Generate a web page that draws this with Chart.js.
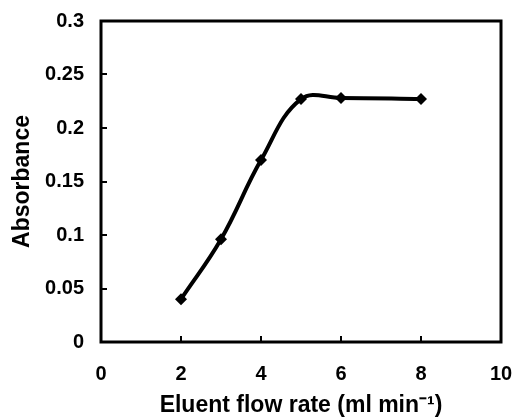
<!DOCTYPE html>
<html>
<head>
<meta charset="utf-8">
<script src="https://cdn.jsdelivr.net/npm/chart.js@4.4.1/dist/chart.umd.min.js"></script>
<style>
  html, body { margin: 0; padding: 0; background: #fff; }
  #wrap { width: 513px; height: 419px; }
</style>
</head>
<body>
<div id="wrap"><canvas id="chart"></canvas></div>
<script>
// flow rate (ml/min) vs absorbance
const flowRates = [2, 3, 4, 5, 6, 8];
const absorbance = [0.04, 0.096, 0.17, 0.227, 0.228, 0.227];

const xTicks = [0, 2, 4, 6, 8, 10];
const yTicks = [0, 0.05, 0.1, 0.15, 0.2, 0.25, 0.3];
const yTickLabels = ["0", "0.05", "0.1", "0.15", "0.2", "0.25", "0.3"];

const FONT = "'Liberation Sans', Arial, sans-serif";

// box around the plot plus short inward tick marks
const frame = {
  id: "frame",
  afterDatasetsDraw(chart) {
    const { ctx, chartArea: a, scales } = chart;
    ctx.save();
    ctx.strokeStyle = "#000";
    ctx.lineWidth = 2;
    ctx.beginPath();
    scales.x.ticks.forEach(t => {
      const px = Math.round(scales.x.getPixelForValue(t.value));
      ctx.moveTo(px, a.bottom);
      ctx.lineTo(px, a.bottom - 6);
    });
    scales.y.ticks.forEach(t => {
      const py = Math.round(scales.y.getPixelForValue(t.value));
      ctx.moveTo(a.left, py);
      ctx.lineTo(a.left + 6, py);
    });
    ctx.stroke();
    ctx.lineWidth = 3;
    ctx.strokeRect(a.left, a.top, a.right - a.left, a.bottom - a.top);
    ctx.restore();
  }
};

new Chart(document.getElementById("chart"), {
  type: "line",
  data: {
    datasets: [{
      data: flowRates.map((x, i) => ({ x, y: absorbance[i] })),
      borderColor: "#000",
      backgroundColor: "#000",
      borderWidth: 4,
      tension: 0.4,
      pointStyle: "rectRot",
      pointRadius: 6,
      pointBorderWidth: 0,
      pointBackgroundColor: "#000"
    }]
  },
  options: {
    responsive: true,
    maintainAspectRatio: false,
    animation: false,
    layout: { padding: { left: 0, top: 21, right: 12, bottom: 0 } },
    plugins: { legend: { display: false }, tooltip: { enabled: false } },
    scales: {
      x: {
        type: "linear",
        min: 0,
        max: 10,
        afterBuildTicks: s => { s.ticks = xTicks.map(v => ({ value: v })); },
        afterFit: s => { s.height = 77; s.paddingLeft = 0; s.paddingRight = 0; },
        grid: { display: false, drawTicks: false },
        border: { display: false },
        ticks: {
          color: "#000",
          padding: 20,
          maxRotation: 0,
          font: { family: FONT, size: 20, weight: "bold" }
        },
        title: {
          display: true,
          text: "Eluent flow rate (ml min⁻¹)",
          color: "#000",
          padding: { top: 0, bottom: 0 },
          font: { family: FONT, size: 23, weight: "bold" }
        }
      },
      y: {
        min: 0,
        max: 0.3,
        afterBuildTicks: s => { s.ticks = yTicks.map(v => ({ value: v })); },
        afterFit: s => { s.width = 101; s.paddingTop = 0; s.paddingBottom = 0; },
        grid: { display: false, drawTicks: false },
        border: { display: false },
        ticks: {
          color: "#000",
          padding: 17,
          callback: (v, i) => yTickLabels[i],
          font: { family: FONT, size: 20, weight: "bold" }
        },
        title: {
          display: true,
          text: "Absorbance",
          color: "#000",
          padding: { top: 9, bottom: 0 },
          font: { family: FONT, size: 23, weight: "bold" }
        }
      }
    }
  },
  plugins: [frame]
});
</script>
</body>
</html>
